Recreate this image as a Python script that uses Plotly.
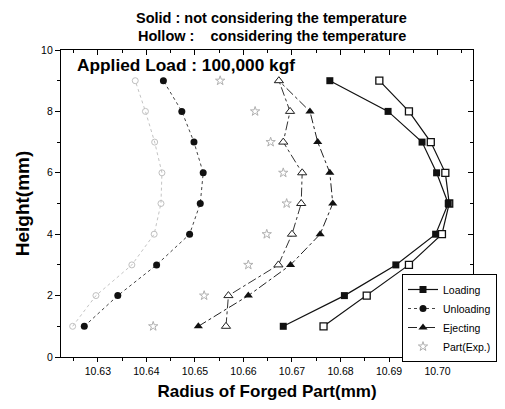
import plotly.graph_objects as go

heights = [1, 2, 3, 4, 5, 6, 7, 8, 9]

loading_solid = [10.6682, 10.6808, 10.6914, 10.6996, 10.7022, 10.6998, 10.6968, 10.6898, 10.6778]
loading_hollow = [10.6765, 10.6854, 10.6941, 10.7009, 10.7024, 10.7016, 10.6986, 10.6941, 10.6880]

unloading_solid = [10.6272, 10.6341, 10.6421, 10.6489, 10.6511, 10.6517, 10.6498, 10.6473, 10.6435]
unloading_hollow = [10.6248, 10.6296, 10.6370, 10.6416, 10.6430, 10.6432, 10.6417, 10.6398, 10.6377]

ejecting_solid = [10.6507, 10.6610, 10.6697, 10.6758, 10.6784, 10.6778, 10.6753, 10.6737, 10.6673]
ejecting_hollow = [10.6564, 10.6569, 10.6672, 10.6700, 10.6719, 10.6721, 10.6682, 10.6696, 10.6673]

part_exp = [10.6414, 10.6519, 10.6610, 10.6648, 10.6689, 10.6682, 10.6656, 10.6624, 10.6552]

x_ticks = [10.63, 10.64, 10.65, 10.66, 10.67, 10.68, 10.69, 10.70]
x_tick_text = ["10.63", "10.64", "10.65", "10.66", "10.67", "10.68", "10.69", "10.70"]
y_ticks = [0, 2, 4, 6, 8, 10]

FONT = "Liberation Sans, Arial, sans-serif"
XR = [10.6224, 10.7073]
YR = [0, 10]

fig = go.Figure()

# hollow (considering temperature)
fig.add_trace(go.Scatter(x=unloading_hollow, y=heights, mode="lines+markers", showlegend=False,
                         line=dict(color="#c4c4c4", width=1, dash="dot"),
                         marker=dict(symbol="circle-open", size=6, color="#c0c0c0", line=dict(width=1))))
fig.add_trace(go.Scatter(x=loading_hollow, y=heights, mode="lines+markers", showlegend=False,
                         line=dict(color="#111", width=1.2),
                         marker=dict(symbol="square", size=7, color="white", line=dict(color="#111", width=1.3))))
fig.add_trace(go.Scatter(x=ejecting_solid, y=heights, mode="lines+markers", showlegend=False,
                         line=dict(color="#222", width=1, dash="dashdot"),
                         marker=dict(symbol="triangle-up", size=8, color="#111")))
fig.add_trace(go.Scatter(x=ejecting_hollow, y=heights, mode="lines+markers", showlegend=False,
                         line=dict(color="#333", width=1, dash="dashdot"),
                         marker=dict(symbol="triangle-up", size=8, color="white", line=dict(color="#222", width=1))))

# legend traces (solid)
fig.add_trace(go.Scatter(x=loading_solid, y=heights, mode="lines+markers", name="Loading",
                         line=dict(color="#111", width=1.2),
                         marker=dict(symbol="square", size=7, color="#111")))
fig.add_trace(go.Scatter(x=unloading_solid, y=heights, mode="lines+markers", name="Unloading",
                         line=dict(color="#444", width=1, dash="dot"),
                         marker=dict(symbol="circle", size=7, color="#111")))
fig.add_trace(go.Scatter(x=[None], y=[None], mode="lines+markers", name="Ejecting",
                         line=dict(color="#222", width=1, dash="dashdot"),
                         marker=dict(symbol="triangle-up", size=8, color="#111")))
fig.add_trace(go.Scatter(x=part_exp, y=heights, mode="markers", name="Part(Exp.)",
                         marker=dict(symbol="star-open", size=7, color="#b0b0b0", line=dict(width=1))))

axis_common = dict(showline=True, linecolor="black", linewidth=1.3, showgrid=False, zeroline=False,
                   tickfont=dict(family=FONT, size=10.5, color="black"))

fig.update_layout(
    width=505, height=409,
    margin=dict(l=61, r=32, t=50, b=52, autoexpand=False),
    paper_bgcolor="white", plot_bgcolor="white",
    font=dict(family=FONT, color="black"),
    xaxis=dict(range=XR, tickvals=x_ticks, ticktext=x_tick_text, ticks="outside", ticklen=4,
               tickwidth=1, tickcolor="black",
               minor=dict(dtick=0.005, tick0=10.625, ticks="outside", ticklen=3, tickcolor="black"),
               title=dict(text="<b>Radius of Forged Part(mm)</b>", font=dict(family=FONT, size=17), standoff=9),
               **axis_common),
    yaxis=dict(range=YR, tickvals=y_ticks, ticks="outside", ticklen=5, tickwidth=1, tickcolor="black",
               minor=dict(dtick=1, tick0=0, ticks="outside", ticklen=3, tickcolor="black"),
               title=dict(text="<b>Height(mm)</b>", font=dict(family=FONT, size=19), standoff=6),
               **axis_common),
    xaxis2=dict(range=XR, overlaying="x", side="top", tickvals=x_ticks, ticks="inside", ticklen=5,
                tickcolor="black", showticklabels=False,
                minor=dict(dtick=0.005, tick0=10.625, ticks="inside", ticklen=3, tickcolor="black"),
                showline=True, linecolor="black", linewidth=1.3, showgrid=False, zeroline=False),
    yaxis2=dict(range=YR, overlaying="y", side="right", tickvals=y_ticks, ticks="inside", ticklen=5,
                tickcolor="black", showticklabels=False,
                minor=dict(dtick=1, tick0=0, ticks="inside", ticklen=3, tickcolor="black"),
                showline=True, linecolor="black", linewidth=1.3, showgrid=False, zeroline=False),
    legend=dict(x=(402 - 61) / 412, y=(357 - 274) / 307, xanchor="left", yanchor="top",
                bordercolor="black", borderwidth=1,
                bgcolor="white", font=dict(family=FONT, size=10.5), tracegroupgap=0, itemwidth=30),
    annotations=[
        dict(text="<b>Solid : not considering the temperature</b>", x=0.512, y=(357 - 18) / 307,
             xref="paper", yref="paper", yanchor="middle", showarrow=False, font=dict(family=FONT, size=14.5)),
        dict(text="<b>Hollow :    considering the temperature</b>", x=0.512, y=(357 - 36) / 307,
             xref="paper", yref="paper", yanchor="middle", showarrow=False, font=dict(family=FONT, size=14.5)),
        dict(text="<b>Applied Load : 100,000 kgf</b>", x=(75 - 61) / 412, y=(357 - 65) / 307,
             xref="paper", yref="paper", xanchor="left", yanchor="middle", showarrow=False,
             font=dict(family=FONT, size=17.3)),
    ],
)
# dummy trace to anchor secondary axes
fig.add_trace(go.Scatter(x=[None], y=[None], xaxis="x2", yaxis="y2", showlegend=False, hoverinfo="skip"))

fig.write_html("out.html")
